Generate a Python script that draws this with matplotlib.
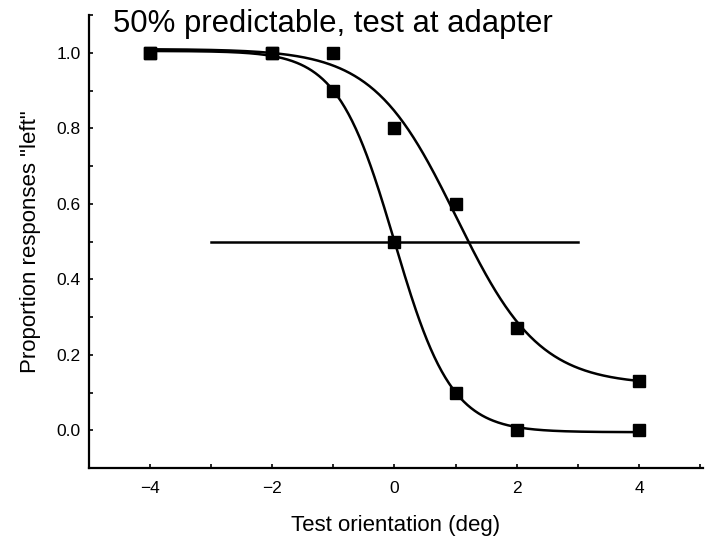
import numpy as np
import matplotlib
matplotlib.use("Agg")
import matplotlib.pyplot as plt
from matplotlib.ticker import MultipleLocator

plt.rcParams['font.family'] = ['Liberation Sans', 'DejaVu Sans']

# Data points
x_pts = [-4, -2, -1, 0, 1, 2, 4]
steep_pts = [1.0, 1.0, 0.9, 0.5, 0.1, 0.0, 0.0]
shallow_pts = [1.0, 1.0, 1.0, 0.8, 0.6, 0.27, 0.13]

# Fitted logistic parameters: lo, hi, mu, slope
steep_fit = dict(lo=-0.005, hi=1.005, mu=0.0, s=0.465)
shallow_fit = dict(lo=0.12, hi=1.01, mu=1.01, s=0.68)

# Reference line
ref_x = [-3, 3]
ref_y = [0.5, 0.5]

title = "50% predictable, test at adapter"
xlabel = "Test orientation (deg)"
ylabel = 'Proportion responses "left"'
xticks = [-4, -2, 0, 2, 4]
yticks = [0.0, 0.2, 0.4, 0.6, 0.8, 1.0]


def logistic(x, lo, hi, mu, s):
    return hi - (hi - lo) / (1 + np.exp(-(x - mu) / s))


fig = plt.figure(figsize=(7.11, 5.38), dpi=100)
ax = fig.add_axes([0.125, 0.130, 0.864, 0.842])

xc = np.linspace(-4, 4, 400)
for fit in (steep_fit, shallow_fit):
    ax.plot(xc, logistic(xc, **fit), color='black', lw=1.8, zorder=2)

ax.plot(ref_x, ref_y, color='black', lw=1.8, zorder=2)

ax.plot(x_pts, steep_pts, 's', color='black', ms=8, zorder=3)
ax.plot(x_pts, shallow_pts, 's', color='black', ms=8, zorder=3)

ax.set_xlim(-5, 5.05)
ax.set_ylim(-0.1, 1.1)
ax.set_xticks(xticks)
ax.set_yticks(yticks)
ax.set_xticklabels([f"{t:d}".replace('-', '\u2212') for t in xticks])
ax.set_yticklabels([f"{t:.1f}" for t in yticks])
ax.xaxis.set_minor_locator(MultipleLocator(1))
ax.yaxis.set_minor_locator(MultipleLocator(0.1))

for side in ('top', 'right'):
    ax.spines[side].set_visible(False)
for side in ('left', 'bottom'):
    ax.spines[side].set_linewidth(1.6)

ax.tick_params(which='both', direction='in', length=3, width=1.2, labelsize=12.5)
ax.tick_params(axis='y', which='both', pad=6)
ax.tick_params(axis='x', which='both', pad=9)

ax.set_xlabel(xlabel, fontsize=16, labelpad=14)
ax.set_ylabel(ylabel, fontsize=16, labelpad=11)

fig.text(113 / 711, 1 - 24 / 538, title, fontsize=22.4, va='center', ha='left')

fig.savefig("out.png", dpi=100)
